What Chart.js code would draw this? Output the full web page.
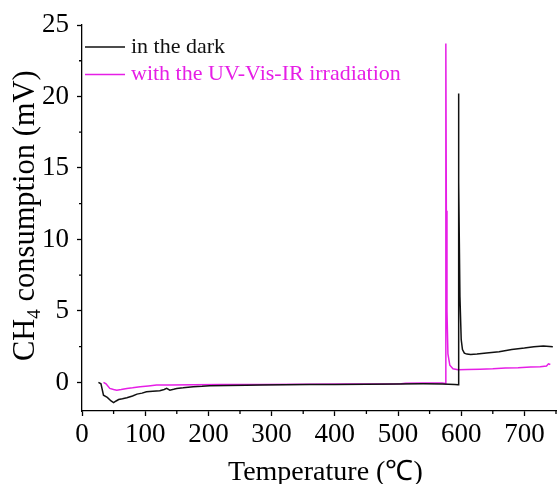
<!DOCTYPE html>
<html>
<head>
<meta charset="utf-8">
<script src="https://cdn.jsdelivr.net/npm/chart.js@4/dist/chart.umd.min.js"></script>
<style>
  body { margin: 0; background: #fff; }
  #wrap { width: 558px; height: 484px; }
</style>
</head>
<body>
<div id="wrap"><canvas id="tprChart" width="558" height="484"></canvas></div>
<script>
// temperature (C) and CH4 signal (mV), dark run
var darkTemp = [26, 30, 34, 40, 46, 50, 54, 58, 64, 71, 80, 87, 95, 102, 112, 123, 130, 134, 139, 145, 150, 160, 176, 190, 202, 230, 260, 282, 320, 360, 400, 450, 500, 540, 570, 590, 595, 595.5, 596.5, 598, 600, 602, 605, 609, 615, 625, 640, 660, 680, 700, 715, 730, 745];
var darkVal = [0, -0.1, -0.9, -1.05, -1.3, -1.42, -1.3, -1.2, -1.15, -1.07, -0.95, -0.82, -0.75, -0.65, -0.62, -0.58, -0.5, -0.42, -0.54, -0.48, -0.42, -0.38, -0.3, -0.27, -0.23, -0.22, -0.2, -0.19, -0.17, -0.15, -0.14, -0.13, -0.11, -0.1, -0.12, -0.15, -0.17, 20.2, 14, 6, 3, 2.3, 2.05, 1.98, 1.95, 1.98, 2.05, 2.15, 2.3, 2.4, 2.5, 2.55, 2.5];

// irradiated run
var uvTemp = [34, 38, 44, 50, 55, 62, 71, 80, 92, 105, 118, 140, 176, 220, 282, 350, 420, 480, 505, 512, 540, 570, 575, 575.7, 576.5, 577.5, 579, 582, 587, 595, 610, 630, 650, 670, 690, 710, 725, 735, 738, 741];
var uvVal = [0, -0.1, -0.42, -0.5, -0.54, -0.5, -0.42, -0.38, -0.3, -0.25, -0.19, -0.18, -0.17, -0.15, -0.14, -0.13, -0.12, -0.12, -0.1, -0.06, -0.05, -0.05, -0.07, 23.7, 12, 5, 2, 1.2, 0.95, 0.88, 0.9, 0.92, 0.95, 1.0, 1.02, 1.08, 1.1, 1.15, 1.3, 1.25];

var seriesNames = ['in the dark', 'with the UV-Vis-IR irradiation'];
var seriesColors = ['#111111', '#e61ee6'];

var xTicks = [0, 100, 200, 300, 400, 500, 600, 700];
var xMinor = [50, 150, 250, 350, 450, 550, 650, 750];
var yTicks = [0, 5, 10, 15, 20, 25];
var yMinor = [2.5, 7.5, 12.5, 17.5, 22.5];

var serif = '"Liberation Serif", "Times New Roman", serif';

function toPoints(xs, ys) {
  var pts = [];
  for (var i = 0; i < xs.length; i++) pts.push({ x: xs[i], y: ys[i] });
  return pts;
}

// short ticks between the labelled ones
const minorTicks = {
  id: 'minorTicks',
  afterDraw(chart) {
    const ctx = chart.ctx;
    const xs = chart.scales.x, ys = chart.scales.y;
    ctx.save();
    ctx.strokeStyle = '#000';
    ctx.lineWidth = 1.3;
    ctx.beginPath();
    xMinor.forEach(v => {
      const px = xs.getPixelForValue(v);
      ctx.moveTo(px, xs.top);
      ctx.lineTo(px, xs.top + 3);
    });
    yMinor.forEach(v => {
      const py = ys.getPixelForValue(v);
      ctx.moveTo(ys.right, py);
      ctx.lineTo(ys.right - 3, py);
    });
    ctx.stroke();
    ctx.restore();
  }
};

// axis titles, y one has a subscript
const axisTitles = {
  id: 'axisTitles',
  afterDraw(chart) {
    const ctx = chart.ctx;
    ctx.save();
    ctx.fillStyle = '#000';
    ctx.font = '28px ' + serif;
    ctx.textBaseline = 'middle';
    ctx.textAlign = 'left';
    ctx.fillText('Temperature (\u2103)', 228, 473);

    // rotated title, baseline runs bottom to top
    ctx.translate(26, 361);
    ctx.rotate(-Math.PI / 2);
    const p1 = 'CH', p2 = '4', p3 = ' consumption (mV)';
    ctx.font = '30.5px ' + serif;
    ctx.fillText(p1, 0, 0);
    let x = ctx.measureText(p1).width;
    ctx.font = '19px ' + serif;
    ctx.fillText(p2, x, 9);
    x += ctx.measureText(p2).width;
    ctx.font = '30.5px ' + serif;
    ctx.fillText(p3, x, 0);
    ctx.restore();
  }
};

// legend inside the plot, text coloured like the line
const innerLegend = {
  id: 'innerLegend',
  afterDraw(chart) {
    const ctx = chart.ctx;
    const area = chart.chartArea;
    ctx.save();
    ctx.font = '22px ' + serif;
    ctx.textBaseline = 'middle';
    ctx.textAlign = 'left';
    chart.data.datasets.forEach((ds, i) => {
      const y = area.top + 22 + i * 27.5;
      ctx.strokeStyle = ds.borderColor;
      ctx.lineWidth = 1.5;
      ctx.beginPath();
      ctx.moveTo(area.left + 3, y);
      ctx.lineTo(area.left + 43, y);
      ctx.stroke();
      ctx.fillStyle = ds.borderColor;
      ctx.fillText(ds.label, area.left + 49, y);
    });
    ctx.restore();
  }
};

new Chart(document.getElementById('tprChart'), {
  type: 'line',
  data: {
    datasets: [
      {
        label: seriesNames[0],
        data: toPoints(darkTemp, darkVal),
        borderColor: seriesColors[0],
        borderWidth: 1.5,
        pointRadius: 0,
        tension: 0
      },
      {
        label: seriesNames[1],
        data: toPoints(uvTemp, uvVal),
        borderColor: seriesColors[1],
        borderWidth: 1.5,
        pointRadius: 0,
        tension: 0
      }
    ]
  },
  options: {
    responsive: false,
    animation: false,
    layout: { padding: { top: 25, right: 2, left: 0, bottom: 0 } },
    plugins: {
      legend: { display: false },
      tooltip: { enabled: false }
    },
    scales: {
      x: {
        type: 'linear',
        min: 0,
        max: 750,
        afterBuildTicks: s => { s.ticks = xTicks.map(v => ({ value: v })); },
        afterFit: s => { s.height = 73; },
        border: { display: true, color: '#000', width: 1.3 },
        grid: { drawOnChartArea: false, drawTicks: true, tickLength: 5, tickColor: '#000', tickWidth: 1.3 },
        ticks: { color: '#000', font: { family: serif, size: 27 }, padding: 3, maxRotation: 0 }
      },
      y: {
        type: 'linear',
        min: -2,
        max: 25,
        afterBuildTicks: s => { s.ticks = yTicks.map(v => ({ value: v })); },
        afterFit: s => { s.width = 82; },
        border: { display: true, color: '#000', width: 1.3 },
        grid: { drawOnChartArea: false, drawTicks: true, tickLength: 5, tickColor: '#000', tickWidth: 1.3 },
        ticks: { color: '#000', font: { family: serif, size: 27 }, padding: 8 }
      }
    }
  },
  plugins: [minorTicks, axisTitles, innerLegend]
});
</script>
</body>
</html>
